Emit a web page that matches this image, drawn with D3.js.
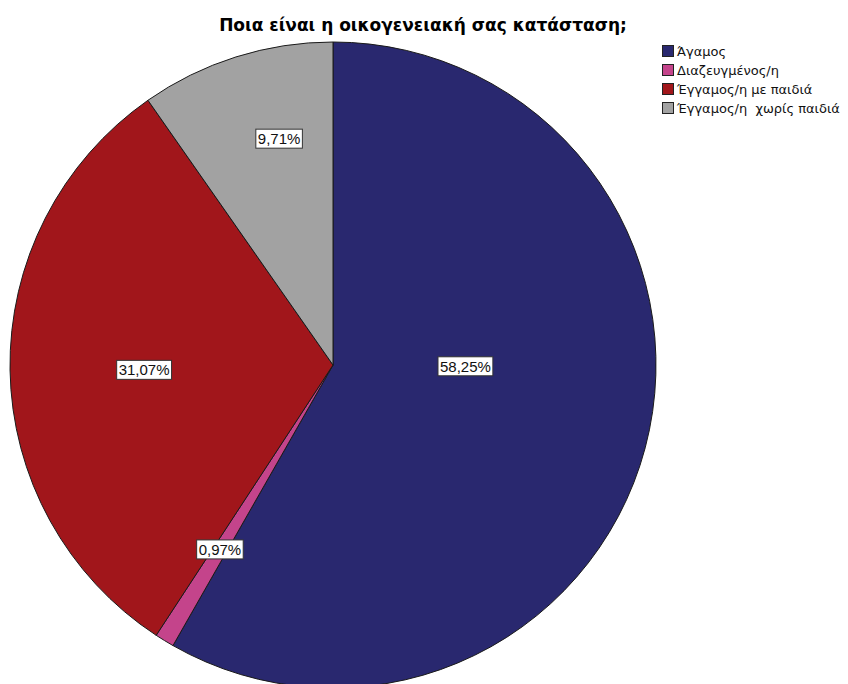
<!DOCTYPE html>
<html>
<head>
<meta charset="utf-8">
<script src="https://cdn.jsdelivr.net/npm/d3@7"></script>
<style>
  html, body { margin: 0; padding: 0; background: #fff; }
  svg { display: block; font-family: "Liberation Sans", Arial, sans-serif; }
</style>
</head>
<body>
<svg id="chart" width="848" height="684"></svg>
<script>
// Marital status of respondents (share of answers, %)
const categories = ["Άγαμος", "Διαζευγμένος/η", "Έγγαμος/η με παιδιά", "Έγγαμος/η  χωρίς παιδιά"];
const percentages = [58.25, 0.97, 31.07, 9.71];
const sliceColors = ["#29286f", "#c4448b", "#a1161b", "#a2a2a2"];
const titleText = "Ποια είναι η οικογενειακή σας κατάσταση;";

// Label placement: angle (deg, clockwise from 12 o'clock) and radius fraction
const labelPlacement = [
  { angle: 90.6, radius: 0.41 },
  { angle: 211.5, radius: 0.67 },
  { angle: 268.5, radius: 0.585 },
  { angle: 346.6, radius: 0.72 }
];

const svg = d3.select("#chart");
const cx = 333, cy = 365, R = 323;

const data = categories.map((c, i) => ({ name: c, value: percentages[i], color: sliceColors[i], idx: i }));

const pie = d3.pie().value(d => d.value).sort(null);
const arc = d3.arc().innerRadius(0).outerRadius(R);

const g = svg.append("g").attr("transform", `translate(${cx},${cy})`);

g.selectAll("path.slice")
  .data(pie(data))
  .join("path")
  .attr("class", "slice")
  .attr("d", arc)
  .attr("fill", d => d.data.color)
  .attr("stroke", "#1a1a1a")
  .attr("stroke-width", 1);

// Value labels in white boxes
const fmt = v => v.toFixed(2).replace(".", ",") + "%";
const labels = g.selectAll("g.lbl")
  .data(pie(data))
  .join("g")
  .attr("class", "lbl")
  .attr("transform", d => {
    const p = labelPlacement[d.data.idx];
    const a = p.angle * Math.PI / 180;
    const x = Math.sin(a) * R * p.radius;
    const y = -Math.cos(a) * R * p.radius;
    return `translate(${x},${y})`;
  });

labels.append("text")
  .attr("text-anchor", "middle")
  .attr("dy", "0.36em")
  .attr("font-size", 15)
  .attr("fill", "#111")
  .text(d => fmt(d.data.value));

labels.each(function() {
  const grp = d3.select(this);
  const bb = grp.select("text").node().getBBox();
  grp.insert("rect", "text")
    .attr("x", bb.x - 2)
    .attr("y", bb.y - 1)
    .attr("width", bb.width + 4)
    .attr("height", bb.height + 2)
    .attr("fill", "#fff")
    .attr("stroke", "#333")
    .attr("stroke-width", 1);
});

// Title
svg.append("text")
  .attr("x", 423)
  .attr("y", 31)
  .attr("text-anchor", "middle")
  .attr("font-family", "'DejaVu Sans', sans-serif")
  .attr("font-size", 17)
  .attr("font-weight", "bold")
  .attr("fill", "#000")
  .text(titleText);

// Legend
const legend = svg.append("g").attr("transform", "translate(662,45)");
const rows = legend.selectAll("g.row")
  .data(data)
  .join("g")
  .attr("class", "row")
  .attr("transform", (d, i) => `translate(0,${i * 19})`);

rows.append("rect")
  .attr("x", 0.5).attr("y", 0.5)
  .attr("width", 11).attr("height", 11)
  .attr("fill", d => d.color)
  .attr("stroke", "#222")
  .attr("stroke-width", 1);

rows.append("text")
  .attr("x", 15)
  .attr("y", 10.5)
  .attr("font-family", "'DejaVu Sans', sans-serif")
  .attr("font-size", 13)
  .attr("fill", "#111")
  .style("white-space", "pre")
  .text(d => d.name);
</script>
</body>
</html>
